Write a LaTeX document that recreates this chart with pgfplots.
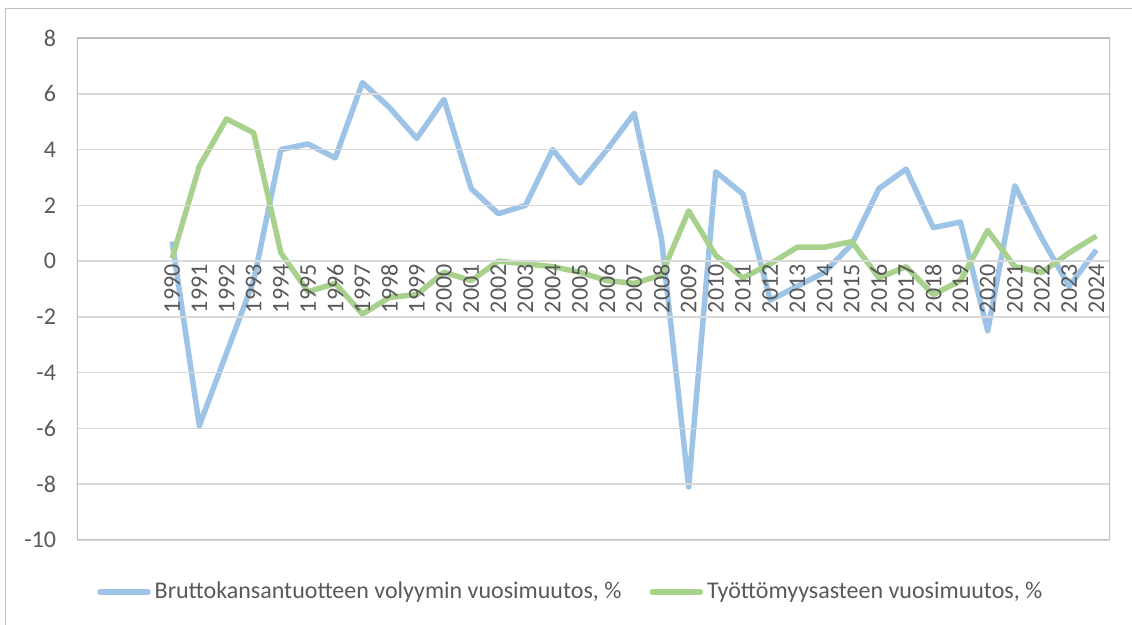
\documentclass[border=0pt]{standalone}
\usepackage{pgfplots}
\pgfplotsset{compat=1.18}
\usepackage{pgfplotstable}
\usepackage{fontspec}
\setmainfont{Carlito}
\definecolor{gdpblue}{HTML}{9DC3E6}
\definecolor{ugreen}{HTML}{A9D18E}
\definecolor{txt}{HTML}{595959}
\definecolor{gridc}{HTML}{D9D9D9}
\definecolor{boxc}{HTML}{BFBFBF}
\pgfplotsset{layers/labelsontop/.define layer set={axis background,axis grid,pre main,axis ticks,axis lines,axis tick labels,main,axis descriptions,axis foreground}{}}

\pgfplotstableread{
x gdp un
3 0.7 0.1
4 -5.9 3.4
5 -3.3 5.1
6 -0.7 4.6
7 4.0 0.3
8 4.2 -1.1
9 3.7 -0.8
10 6.4 -1.9
11 5.5 -1.3
12 4.4 -1.2
13 5.8 -0.4
14 2.6 -0.7
15 1.7 0.0
16 2.0 -0.1
17 4.0 -0.2
18 2.8 -0.4
19 4.0 -0.7
20 5.3 -0.8
21 0.8 -0.5
22 -8.1 1.8
23 3.2 0.2
24 2.4 -0.6
25 -1.4 -0.1
26 -0.9 0.5
27 -0.4 0.5
28 0.6 0.7
29 2.6 -0.6
30 3.3 -0.2
31 1.2 -1.2
32 1.4 -0.7
33 -2.5 1.1
34 2.7 -0.2
35 0.8 -0.4
36 -0.9 0.3
37 0.4 0.9
}\data

\begin{document}
\begin{tikzpicture}
\begin{axis}[
  set layers=labelsontop,
  at={(0,0)}, anchor=south west,
  width=516.5pt, height=251pt, scale only axis,
  xmin=-0.5, xmax=37.5, ymin=-10, ymax=8,
  ytick={-10,-8,...,8},
  xtick={3,...,37},
  xticklabels={1990,1991,1992,1993,1994,1995,1996,1997,1998,1999,2000,2001,2002,2003,2004,2005,2006,2007,2008,2009,2010,2011,2012,2013,2014,2015,2016,2017,2018,2019,2020,2021,2022,2023,2024},
  axis x line*=middle, axis y line*=left,
  x axis line style={draw=none},
  y axis line style={draw=none},
  hide obscured x ticks=false, hide obscured y ticks=false,
  major tick length=0pt,
  ymajorgrids, grid style={gridc, line width=0.75pt},
  tick label style={font=\fontsize{12}{14}\selectfont, text=txt},
  xticklabel style={rotate=90, anchor=east, inner sep=1.5pt},
  yticklabel style={anchor=east, xshift=-7pt},
  /pgf/number format/assume math mode=true,
  legend style={at={(0.479,-0.1036)}, anchor=center, draw=none, fill=none,
    font=\fontsize{12}{14}\selectfont, text=txt,
    /tikz/every even column/.append style={column sep=12pt},
    cells={anchor=west}},
  legend columns=2,
  legend image code/.code={\draw[#1, line width=2.75pt, line cap=round] (1pt,0pt) -- (25pt,0pt);},
  every axis plot/.append style={on layer=pre main},
]
\draw[boxc, line width=0.75pt] (rel axis cs:0,0) rectangle (rel axis cs:1,1);
\addplot[gdpblue, line width=2.75pt, line join=round, no marks] table[x=x, y=gdp] {\data};
\addlegendentry{Bruttokansantuotteen volyymin vuosimuutos, \%}
\addplot[ugreen, line width=2.75pt, line join=round, no marks] table[x=x, y=un] {\data};
\addlegendentry{Työttömyysasteen vuosimuutos, \%}
\end{axis}
\draw[boxc, line width=0.75pt] (-35.75pt,-42.5pt) -- (-35.75pt,265.75pt) -- (527.5pt,265.75pt);
\pgfresetboundingbox
\path[use as bounding box] (-38.5pt,-42.5pt) rectangle (527.5pt,270pt);
\end{tikzpicture}
\end{document}
